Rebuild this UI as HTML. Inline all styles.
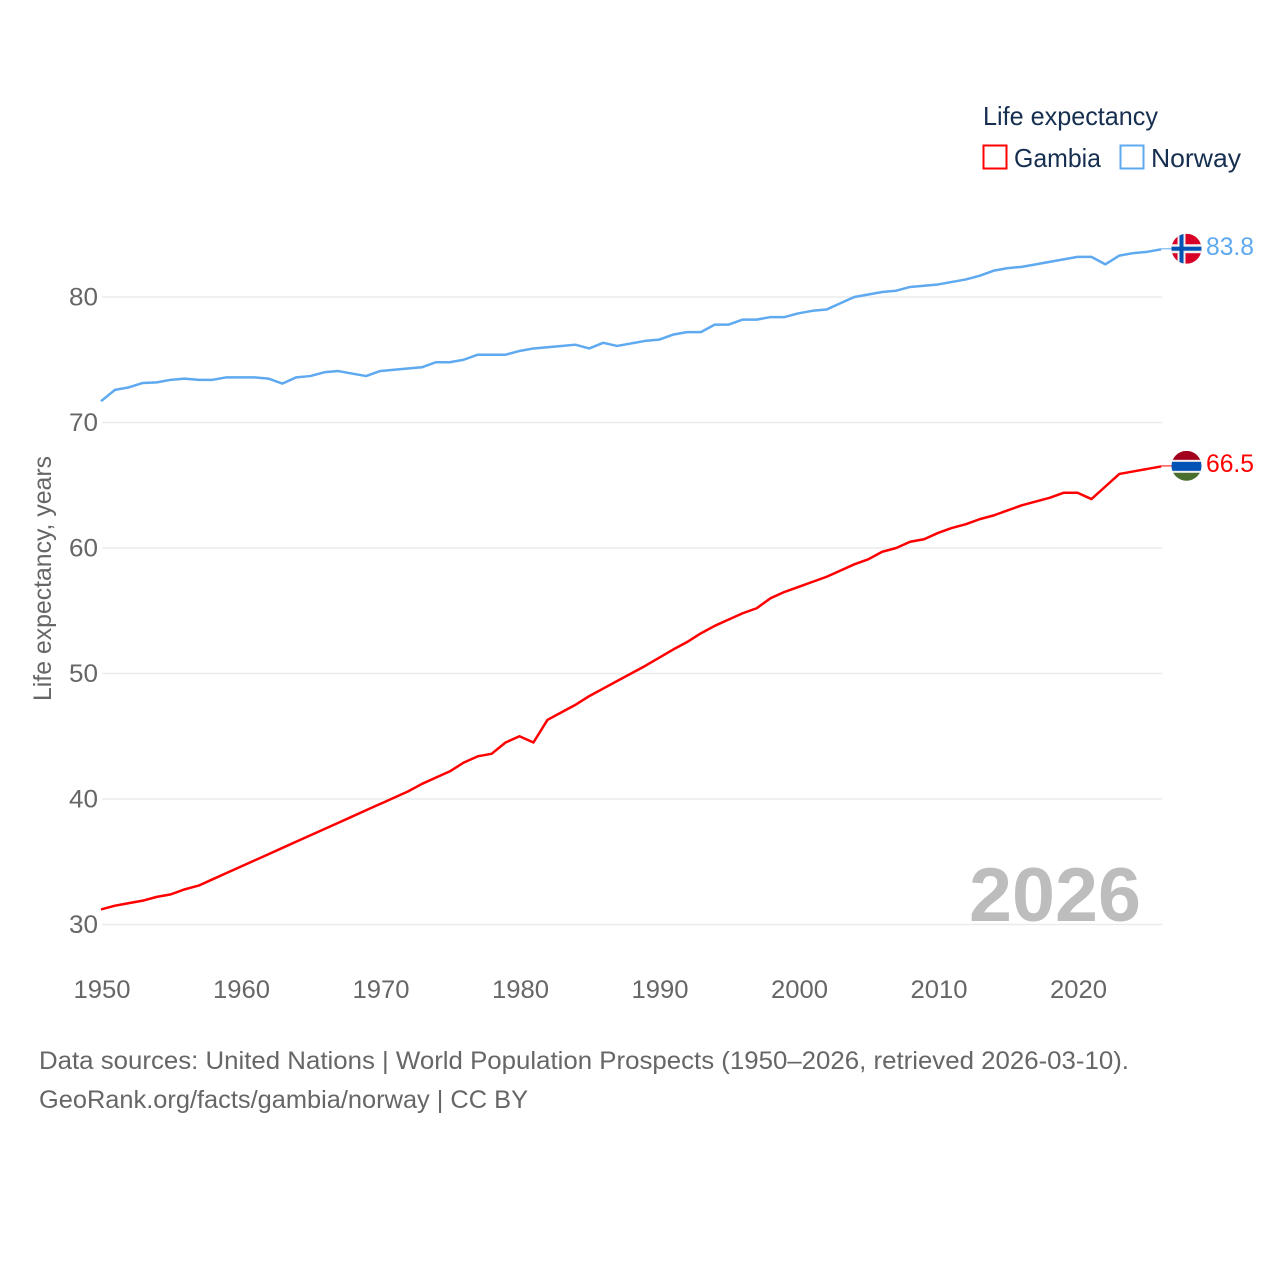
<!DOCTYPE html>
<html lang="en">
<head>
<meta charset="utf-8">
<title>Life expectancy: Gambia and Norway</title>
<style>
html,body{margin:0;padding:0;background:#fff;width:1280px;height:1280px;overflow:hidden}
svg{display:block}
text{font-family:"Liberation Sans",sans-serif}
</style>
</head>
<body>
<svg id="chart" width="1280" height="1280" viewBox="0 0 1280 1280" xmlns="http://www.w3.org/2000/svg">
  <defs>
    <clipPath id="flag-clip-norway"><circle cx="0" cy="0" r="15"></circle></clipPath>
    <clipPath id="flag-clip-gambia"><circle cx="0" cy="0" r="15"></circle></clipPath>
  </defs>
  <g id="grid"></g>
  <g id="yticks"></g>
  <g id="xticks"></g>
  <text transform="translate(51,701) rotate(-90)" font-size="25" fill="#666666" textLength="245" lengthAdjust="spacingAndGlyphs">Life expectancy, years</text>

  <text x="969" y="921" font-size="76" font-weight="bold" fill="#bdbdbd" textLength="172" lengthAdjust="spacingAndGlyphs">2026</text>

  <g id="series"></g>

  <g id="flag-norway">
    <g clip-path="url(#flag-clip-norway)">
      <rect x="-15" y="-15" width="30" height="30" fill="#d80027"></rect>
      <rect x="-9" y="-15" width="8" height="30" fill="#f0f0f0"></rect>
      <rect x="-15" y="-4.5" width="30" height="9" fill="#f0f0f0"></rect>
      <rect x="-7" y="-15" width="4" height="30" fill="#0052b4"></rect>
      <rect x="-15" y="-2" width="30" height="4" fill="#0052b4"></rect>
    </g>
  </g>
  <g id="flag-gambia">
    <g clip-path="url(#flag-clip-gambia)">
      <rect x="-15" y="-15" width="30" height="10" fill="#a2001d"></rect>
      <rect x="-15" y="-6" width="30" height="14" fill="#f0f0f0"></rect>
      <rect x="-15" y="-4" width="30" height="9" fill="#0052b4"></rect>
      <rect x="-15" y="7" width="30" height="8" fill="#496e2d"></rect>
    </g>
  </g>
  <text id="label-norway" x="1206" font-size="25" fill="#5ea9f0" textLength="48" lengthAdjust="spacingAndGlyphs"></text>
  <text id="label-gambia" x="1206" font-size="25" fill="#ff0000" textLength="48" lengthAdjust="spacingAndGlyphs"></text>

  <g>
    <text x="983" y="125" font-size="26" fill="#162f50" textLength="175" lengthAdjust="spacingAndGlyphs">Life expectancy</text>
    <rect x="983.5" y="145.5" width="23" height="23" fill="#fff" stroke="#ff0000" stroke-width="2"></rect>
    <text x="1014" y="167" font-size="26" fill="#162f50" textLength="87" lengthAdjust="spacingAndGlyphs">Gambia</text>
    <rect x="1120.5" y="145.5" width="23" height="23" fill="#fff" stroke="#5ea9f0" stroke-width="2"></rect>
    <text x="1151" y="167" font-size="26" fill="#162f50" textLength="90" lengthAdjust="spacingAndGlyphs">Norway</text>
  </g>

  <text x="39" y="1069" font-size="25" fill="#666666" textLength="1090" lengthAdjust="spacingAndGlyphs">Data sources: United Nations | World Population Prospects (1950–2026, retrieved 2026-03-10).</text>
  <text x="39" y="1108" font-size="25" fill="#666666" textLength="489" lengthAdjust="spacingAndGlyphs">GeoRank.org/facts/gambia/norway | CC BY</text>
</svg>
<script>
const startYear = 1950;
const yTickValues = [30, 40, 50, 60, 70, 80];
const xTickValues = [1950, 1960, 1970, 1980, 1990, 2000, 2010, 2020];
const gambiaValues = [31.2,31.5,31.7,31.9,32.2,32.4,32.8,33.1,33.6,34.1,34.6,35.1,35.6,36.1,36.6,37.1,37.6,38.1,38.6,39.1,39.6,40.1,40.6,41.2,41.7,42.2,42.9,43.4,43.6,44.5,45.0,44.5,46.3,46.9,47.5,48.2,48.8,49.4,50.0,50.6,51.25,51.9,52.5,53.2,53.8,54.3,54.8,55.2,56.0,56.5,56.9,57.3,57.7,58.2,58.7,59.1,59.7,60.0,60.5,60.7,61.2,61.6,61.9,62.3,62.6,63.0,63.4,63.7,64.0,64.4,64.4,63.9,64.9,65.9,66.1,66.3,66.5];
const norwayValues = [71.7,72.6,72.8,73.15,73.2,73.4,73.5,73.4,73.4,73.6,73.6,73.6,73.5,73.1,73.6,73.7,74.0,74.1,73.9,73.7,74.1,74.2,74.3,74.4,74.8,74.8,75.0,75.4,75.4,75.4,75.7,75.9,76.0,76.1,76.2,75.9,76.35,76.1,76.3,76.5,76.6,77.0,77.2,77.2,77.8,77.8,78.2,78.2,78.4,78.4,78.7,78.9,79.0,79.5,80.0,80.2,80.4,80.5,80.8,80.9,81.0,81.2,81.4,81.7,82.1,82.3,82.4,82.6,82.8,83.0,83.2,83.2,82.6,83.3,83.5,83.6,83.8];

const SVG_NS = 'http://www.w3.org/2000/svg';
function xScale(year) { return 101 + (year - 1950) * 13.95; }
function yScale(value) { return 924.5 - (value - 30) * 12.55; }
function make(tag, attrs, parent) {
  const el = document.createElementNS(SVG_NS, tag);
  for (const key in attrs) el.setAttribute(key, attrs[key]);
  parent.appendChild(el);
  return el;
}

const grid = document.getElementById('grid');
const yticks = document.getElementById('yticks');
const xticks = document.getElementById('xticks');
const series = document.getElementById('series');

yTickValues.forEach(function (v) {
  const line = make('line', {x1: 102, x2: 1162, y1: yScale(v), y2: yScale(v), stroke: '#ebebeb', 'stroke-width': 1.6}, grid);
  
  
  const label = make('text', {x: 98, y: yScale(v) + 8.5, 'font-size': 25, fill: '#666666', 'text-anchor': 'end', textLength: 29, lengthAdjust: 'spacingAndGlyphs'}, yticks);
  
  
  label.textContent = String(v);
});

xTickValues.forEach(function (y) {
  const label = make('text', {x: xScale(y) - 27.5, y: 998, 'font-size': 25, fill: '#666666', textLength: 57, lengthAdjust: 'spacingAndGlyphs'}, xticks);
  
  
  label.textContent = String(y);
});

function drawSeries(values, color, name, flagId, labelId) {
  const pts = values.map(function (v, i) {
    return xScale(startYear + i).toFixed(2) + ',' + yScale(v).toFixed(2);
  }).join(' ');
  const line = make('polyline', {points: pts, fill: 'none', stroke: color, 'stroke-width': 2.5, 'stroke-linejoin': 'round'}, series);
  
  
  const last = values[values.length - 1];
  const endY = yScale(last);
  const connector = make('line', {x1: xScale(startYear + values.length - 1), x2: 1172, y1: endY - 0.5, y2: endY - 0.5, stroke: color, 'stroke-width': 1}, series);
  
  
  document.getElementById(flagId).setAttribute('transform', 'translate(1186.5,' + (endY - 0.6) + ')');
  const label = document.getElementById(labelId);
  label.setAttribute('y', endY + 5.5);
  label.textContent = last.toFixed(1);
}

drawSeries(norwayValues, '#5ea9f0', 'norway', 'flag-norway', 'label-norway');
drawSeries(gambiaValues, '#ff0000', 'gambia', 'flag-gambia', 'label-gambia');
</script>
</body>
</html>
